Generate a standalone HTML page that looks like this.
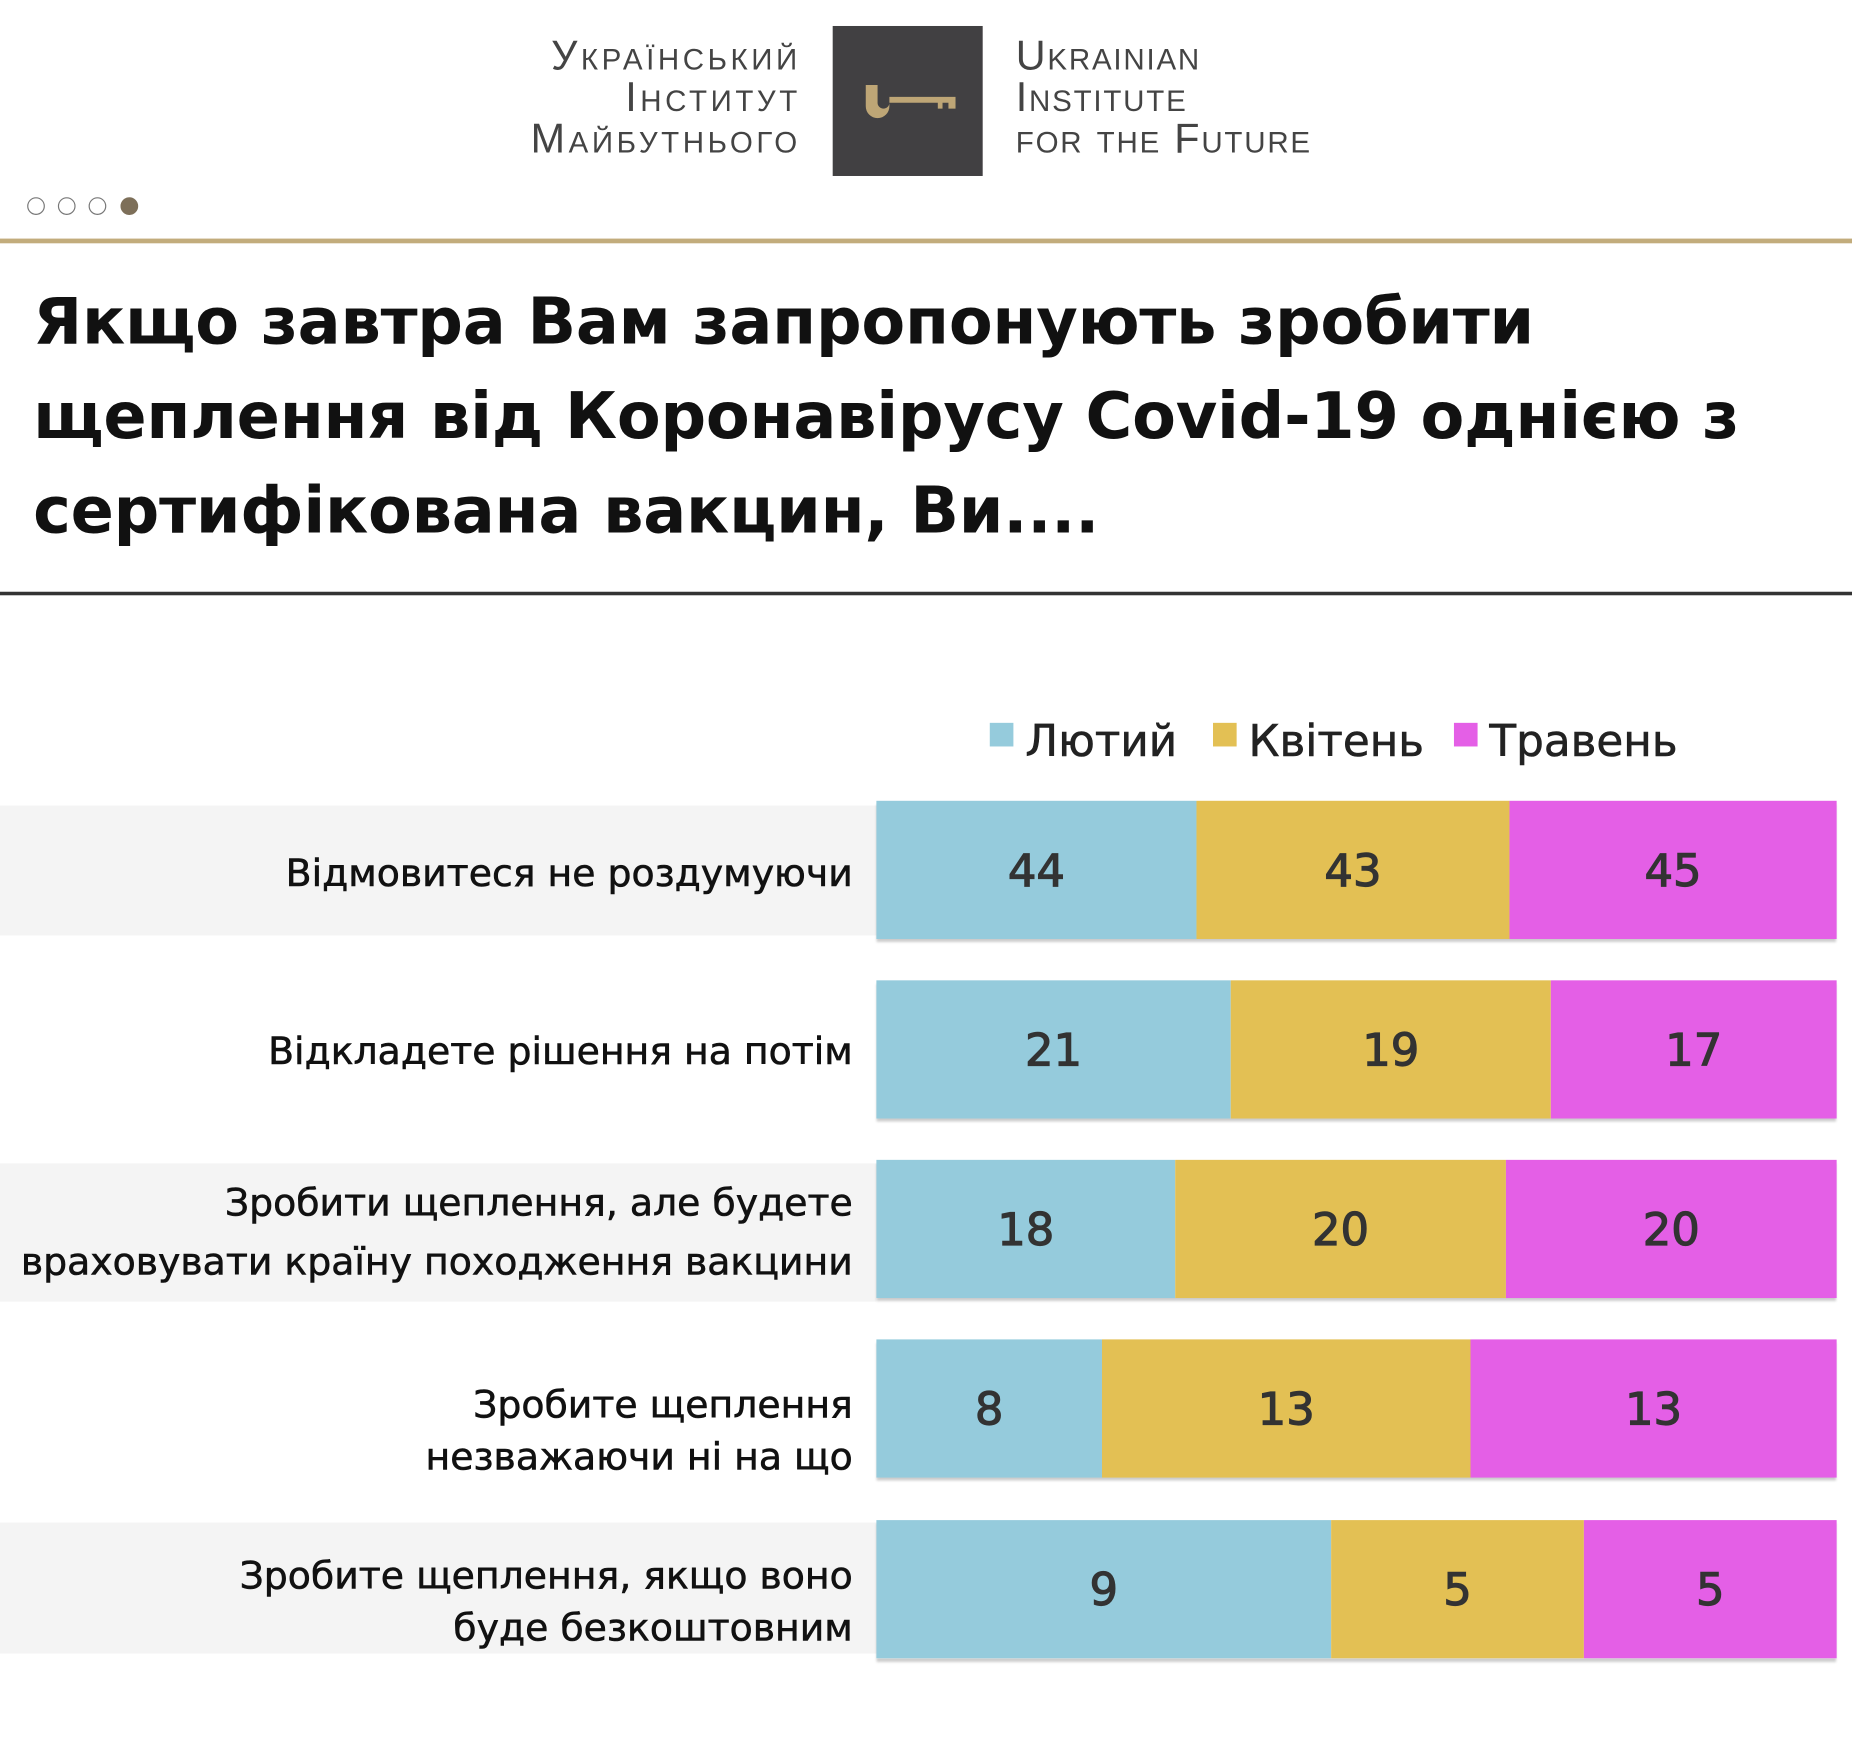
<!DOCTYPE html>
<html><head><meta charset="utf-8"><style>
html,body{margin:0;padding:0;background:#fff;width:1852px;height:1739px;overflow:hidden}
#w{position:absolute;left:0;top:0;width:1568px;height:1473px;transform:scale(1.18112);transform-origin:0 0;font-family:"DejaVu Sans","Liberation Sans",sans-serif}
.a{position:absolute}
.logo{font-family:"Liberation Sans",sans-serif;font-variant:small-caps;font-size:35px;line-height:35px;color:#444;letter-spacing:1.5px}
.dot{position:absolute;top:167px;width:15px;height:15px;border-radius:50%;border:1.5px solid #777;box-sizing:border-box}
.title{font-size:54px;font-weight:bold;line-height:80px;color:#111;left:28px;top:233px;letter-spacing:-0.2px}
.bg{position:absolute;left:0;width:742px;background:#f4f4f4}
.lbl{position:absolute;right:846px;text-align:right;font-size:32px;line-height:50px;color:#111;-webkit-text-stroke:0.5px #111}
.bar{position:absolute;left:742px;width:813px;height:117px;display:flex;box-shadow:0 3px 2px rgba(0,0,0,0.2)}
.bar div{height:100%;display:flex;align-items:center;justify-content:center;font-size:38px;color:#333;-webkit-text-stroke:1px #333}
.b{background:#95cbdc}.y{background:#e3c054}.p{background:#e45fe6}
.leg{position:absolute;top:606px;font-size:37px;color:#222;-webkit-text-stroke:0.5px #222}
.leg span{display:inline-block;width:20px;height:20px;margin-right:10px;vertical-align:8px;-webkit-text-stroke:0}
</style></head><body><div id="w">
<div class="a logo" style="right:890px;top:30px;text-align:right;letter-spacing:3px">Український<br>Інститут<br>Майбутнього</div>
<div class="a" style="left:705px;top:22px;width:127px;height:127px;background:#414042"></div>
<svg class="a" style="left:731px;top:70px" width="80" height="32"><path d="M2 2h10v15a5 5 0 0 0 10 0v-5h56v10h-6v-5h-5v5h-4v-5h-41v3a10 10 0 0 1-20 0z" fill="#bea676"/></svg>
<div class="a logo" style="left:860px;top:30px">Ukrainian<br>Institute<br>for the Future</div>
<div class="dot" style="left:23px"></div><div class="dot" style="left:49px"></div><div class="dot" style="left:75px"></div>
<div class="dot" style="left:102px;background:#7d6f59;border-color:#7d6f59"></div>
<div class="a" style="left:0;top:202px;width:1568px;height:4px;background:#c2ac7c"></div>
<div class="a title">Якщо завтра Вам запропонують зробити<br>щеплення від Коронавірусу Covid-19 однією з<br>сертифікована вакцин, Ви....</div>
<div class="a" style="left:0;top:501px;width:1568px;height:3px;background:#333"></div>
<div class="leg" style="left:838px"><span style="background:#95cbdc"></span>Лютий</div>
<div class="leg" style="left:1027px"><span style="background:#e3c054"></span>Квітень</div>
<div class="leg" style="left:1231px"><span style="background:#e45fe6"></span>Травень</div>

<div class="bg" style="top:682px;height:110px"></div>
<div class="lbl" style="top:714px">Відмовитеся не роздумуючи</div>
<div class="bar" style="top:678px"><div class="b" style="width:271px">44</div><div class="y" style="width:265px">43</div><div class="p" style="width:277px">45</div></div>

<div class="lbl" style="top:865px">Відкладете рішення на потім</div>
<div class="bar" style="top:830px"><div class="b" style="width:300px">21</div><div class="y" style="width:271px">19</div><div class="p" style="width:242px">17</div></div>

<div class="bg" style="top:985px;height:117px"></div>
<div class="lbl" style="top:993px">Зробити щеплення, але будете<br>враховувати країну походження вакцини</div>
<div class="bar" style="top:982px"><div class="b" style="width:253px">18</div><div class="y" style="width:280px">20</div><div class="p" style="width:280px">20</div></div>

<div class="lbl" style="top:1167px;line-height:44px">Зробите щеплення<br>незважаючи ні на що</div>
<div class="bar" style="top:1134px"><div class="b" style="width:191px">8</div><div class="y" style="width:312px">13</div><div class="p" style="width:310px">13</div></div>

<div class="bg" style="top:1289px;height:111px"></div>
<div class="lbl" style="top:1312px;line-height:44px">Зробите щеплення, якщо воно<br>буде безкоштовним</div>
<div class="bar" style="top:1287px"><div class="b" style="width:385px">9</div><div class="y" style="width:214px">5</div><div class="p" style="width:214px">5</div></div>
</div></body></html>
